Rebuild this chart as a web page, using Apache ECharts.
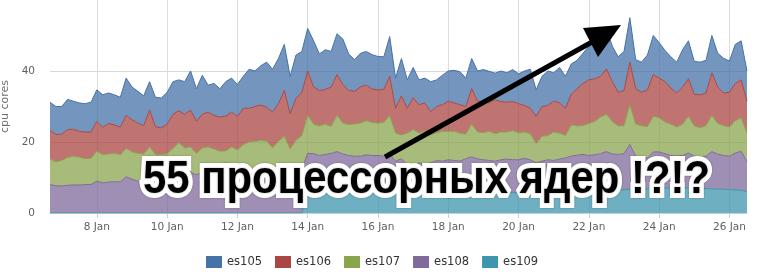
<!DOCTYPE html>
<html><head><meta charset="utf-8">
<script src="https://cdn.jsdelivr.net/npm/echarts@6/dist/echarts.min.js"></script>
<style>html,body{margin:0;padding:0;background:#fff}#c{width:758px;height:274px}</style>
</head><body><div id="c"></div>
<script>
// x axis: one sample every 4 hours starting 6 Jan 16:00
const startTime = Date.UTC(2014, 0, 6, 16);
const stepHours = 4;
const tickDays = [8, 10, 12, 14, 16, 18, 20, 22, 24, 26];
const yTicks = [0, 20, 40];
const seriesNames = ['es105', 'es106', 'es107', 'es108', 'es109'];
const seriesColors = ['#4572A7', '#AA4643', '#89A54E', '#80699B', '#3D96AE'];
const annotationText = '55 процессорных ядер !?!?';

const es105 = [7.9,7.9,7.8,8.5,7.9,8.0,8.0,8.4,8.9,9.2,
  8.6,8.5,8.4,10.5,9.2,9.0,8.4,8.0,8.3,8.4,
  9.0,9.2,8.7,9.2,11.0,9.2,11.0,7.6,9.0,8.0,
  9.7,9.6,9.0,9.0,11.0,10.0,11.1,12.7,12.1,12.7,
  13.0,10.5,12.2,11.5,12.0,13.0,10.3,11.2,10.0,11.5,
  12.8,10.3,8.9,9.5,9.5,9.7,9.4,9.2,11.2,8.5,
  10.5,8.0,8.5,7.0,7.0,8.5,7.5,8.3,8.5,9.2,
  9.3,8.0,8.5,8.5,9.0,8.9,7.5,8.6,8.3,9.0,
  8.4,9.7,11.0,7.5,8.5,9.7,8.0,10.0,9.0,8.5,
  8.0,8.5,9.5,11.2,12.5,11.4,10.0,10.0,11.0,12.5,
  8.2,8.5,9.8,11.0,10.0,8.8,8.8,8.7,10.5,10.7,
  9.3,9.2,9.2,10.5,9.5,9.8,8.8,11.0,11.0,8.5];
const es106 = [8.1,7.7,7.4,7.9,7.6,7.3,7.5,7.4,8.4,7.7,
  8.6,8.0,7.8,9.3,9.1,8.5,8.0,10.4,7.8,7.6,
  8.3,9.6,9.0,9.5,10.4,9.0,9.5,9.8,9.5,9.6,
  9.8,9.8,9.4,10.3,9.5,9.8,10.0,9.6,10.0,10.6,
  12.9,10.0,11.8,12.2,12.5,10.5,10.0,9.8,11.1,11.5,
  10.9,9.6,9.2,10.2,10.0,9.4,9.4,9.3,11.1,7.0,
  11.0,7.0,9.0,8.0,8.0,6.5,7.4,7.5,8.5,8.0,
  8.0,7.8,10.0,8.7,8.8,8.0,9.6,8.6,8.4,8.2,
  8.2,7.5,7.2,7.7,8.4,8.5,8.7,8.5,7.7,8.7,
  10.5,11.9,12.3,12.0,11.5,12.8,11.2,9.5,9.9,12.0,
  10.0,9.4,10.4,11.8,11.2,11.4,10.2,9.6,10.5,10.6,
  8.9,9.3,9.2,12.0,10.3,9.2,9.8,10.5,10.7,9.0];
const es107 = [7.2,6.7,7.2,7.8,8.1,7.8,7.3,7.4,8.4,7.9,
  7.9,8.0,7.6,8.0,7.7,7.8,7.6,8.8,6.9,6.6,
  6.5,7.4,8.6,7.3,7.3,6.0,6.9,7.0,6.2,5.8,
  5.5,6.2,5.6,7.0,7.6,8.0,7.9,7.9,6.4,8.0,
  9.0,6.0,8.3,9.4,10.7,8.3,8.3,8.5,7.6,10.2,
  8.7,8.7,9.1,9.3,9.6,9.3,9.1,9.5,10.8,7.9,
  6.7,8.9,9.9,8.4,9.2,7.9,7.8,8.4,8.0,8.2,
  7.9,6.9,9.2,7.6,7.6,8.2,7.7,7.8,7.6,8.2,
  7.6,7.4,7.3,5.4,7.0,6.8,8.0,7.3,6.3,8.8,
  8.2,8.1,9.0,9.4,10.3,10.5,9.2,8.0,7.9,11.2,
  9.0,9.1,8.8,10.0,9.6,8.9,8.8,8.2,8.8,10.3,
  8.5,8.2,8.6,10.2,8.6,8.4,8.2,9.1,9.4,8.0];
const es108 = [8.0,7.7,7.6,7.8,7.9,7.9,8.0,8.0,9.0,8.5,
  8.7,8.8,8.8,10.2,9.5,9.0,9.0,9.8,9.6,9.8,
  10.2,10.8,11.2,11.0,11.3,10.8,11.4,11.6,11.8,11.6,
  12.0,12.4,12.2,12.2,12.4,12.2,12.5,12.3,12.0,12.2,
  12.6,12.0,12.2,12.4,10.8,10.7,10.4,10.5,10.6,11.1,
  10.6,10.2,10.2,10.2,10.4,10.2,10.4,10.2,10.6,9.0,
  9.7,8.2,8.2,8.6,8.3,8.6,9.2,9.0,9.2,9.0,
  9.0,9.5,9.8,9.4,9.2,9.2,9.0,9.2,9.4,9.2,
  9.4,9.6,9.2,8.7,9.0,9.4,9.4,9.8,10.3,10.6,
  10.7,10.7,10.2,10.2,10.5,10.9,10.2,10.1,10.2,12.5,
  9.5,9.0,8.7,10.2,10.1,9.7,9.2,9.0,9.2,9.8,
  9.0,8.8,9.1,10.5,9.9,9.5,9.4,10.4,11.0,8.5];
const es109 = [0,0,0,0,0,0,0,0,0,0,
  0,0,0,0,0,0,0,0,0,0,
  0,0,0,0,0,0,0,0,0,0,
  0,0,0,0,0,0,0,0,0,0,
  0,0,0,0,6.0,6.0,5.8,6.0,6.2,6.2,
  6.0,6.0,5.8,5.8,6.0,6.0,5.8,5.8,6.0,5.6,
  5.6,5.4,5.4,5.5,5.5,5.5,5.6,5.6,5.8,5.8,
  5.6,5.8,6.0,5.8,5.8,5.6,5.6,5.8,5.8,5.8,
  5.6,5.8,5.8,5.4,5.6,5.6,5.4,5.4,5.2,5.4,
  5.6,5.8,6.0,6.2,6.2,6.4,6.4,6.4,6.5,6.8,
  6.5,6.5,6.8,7.0,7.1,7.0,7.0,7.0,7.0,7.1,
  7.0,7.0,6.9,6.8,6.7,6.7,6.6,6.5,6.4,6.0];

const seriesValues = [es105, es106, es107, es108, es109];
const times = es105.map((_, i) => startTime + i * stepHours * 3600 * 1000);
const tickTimes = tickDays.map(d => Date.UTC(2014, 0, d));

// fit the annotation width
const annFont = 'bold 47px "Liberation Sans", Arial, sans-serif';
const cv = document.createElement('canvas').getContext('2d');
cv.font = annFont;
const annScale = 567 / cv.measureText(annotationText).width;

const chart = echarts.init(document.getElementById('c'), null, {renderer: 'canvas'});

// stack from bottom (es109) to top (es105)
const series = [];
for (let k = seriesNames.length - 1; k >= 0; k--) {
  series.push({
    name: seriesNames[k],
    type: 'line',
    stack: 'cpu',
    xAxisIndex: 0,
    symbol: 'none',
    showSymbol: false,
    color: seriesColors[k],
    lineStyle: {width: 1, color: seriesColors[k]},
    areaStyle: {color: seriesColors[k], opacity: 0.75},
    emphasis: {disabled: true},
    data: times.map((t, i) => [t, seriesValues[k][i]])
  });
}

chart.setOption({
  animation: false,
  grid: {left: 50, right: 11, top: 0, bottom: 61, containLabel: false, outerBoundsMode: 'none'},
  xAxis: [{
    type: 'time',
    min: times[0],
    max: times[times.length - 1],
    show: false
  }, {
    type: 'value',
    position: 'bottom',
    min: times[0],
    max: times[times.length - 1],
    axisLine: {show: true, lineStyle: {color: '#C0D0E0', width: 1}},
    axisTick: {show: true, customValues: tickTimes, length: 5, lineStyle: {color: '#C0D0E0'}},
    axisLabel: {
      customValues: tickTimes,
      margin: 9,
      color: '#606060',
      fontFamily: 'DejaVu Sans',
      fontSize: 10.5,
      formatter: v => new Date(v).getUTCDate() + ' Jan'
    },
    splitLine: {show: true, lineStyle: {color: '#DCDCDC', width: 1}}
  }],
  yAxis: {
    type: 'value',
    min: 0, max: 60, interval: 20,
    name: 'cpu cores',
    nameLocation: 'middle',
    nameGap: 33,
    nameRotate: 90,
    nameTextStyle: {color: '#707070', fontFamily: 'DejaVu Sans', fontSize: 11},
    axisLine: {show: false},
    axisTick: {show: false},
    axisLabel: {
      margin: 15, color: '#606060', fontFamily: 'DejaVu Sans', fontSize: 10.5,
      showMaxLabel: false,
      formatter: v => (yTicks.indexOf(v) >= 0 ? String(v) : '')
    },
    splitLine: {show: true, showMaxLine: false, lineStyle: {color: '#D8D8D8', width: 1}}
  },
  legend: {
    data: seriesNames,
    left: 206,
    top: 256,
    icon: 'rect',
    itemWidth: 16,
    itemHeight: 12,
    itemGap: 13,
    padding: 0,
    textStyle: {color: '#333333', fontFamily: 'DejaVu Sans', fontSize: 11.5},
    itemStyle: {opacity: 1}
  },
  series: series,
  graphic: {
    elements: [
      {type: 'line', z: 100, shape: {x1: 385, y1: 157, x2: 592, y2: 42},
        style: {stroke: '#000', lineWidth: 5}},
      {type: 'polygon', z: 100, shape: {points: [[583, 28], [621, 25], [598, 57]]},
        style: {fill: '#000'}},
      {type: 'text', z: 101, x: 143, y: 180, scaleX: annScale,
        style: {text: annotationText, font: annFont, fill: '#fff', stroke: '#fff', lineWidth: 10,
          lineJoin: 'round', verticalAlign: 'middle', align: 'left',
          textShadowColor: 'rgba(0,0,0,0.35)', textShadowBlur: 2,
          shadowColor: 'rgba(0,0,0,0.35)', shadowBlur: 2}},
      {type: 'text', z: 102, x: 143, y: 180, scaleX: annScale,
        style: {text: annotationText, font: annFont, fill: '#000', verticalAlign: 'middle', align: 'left'}}
    ]
  }
});
</script>
</body></html>
